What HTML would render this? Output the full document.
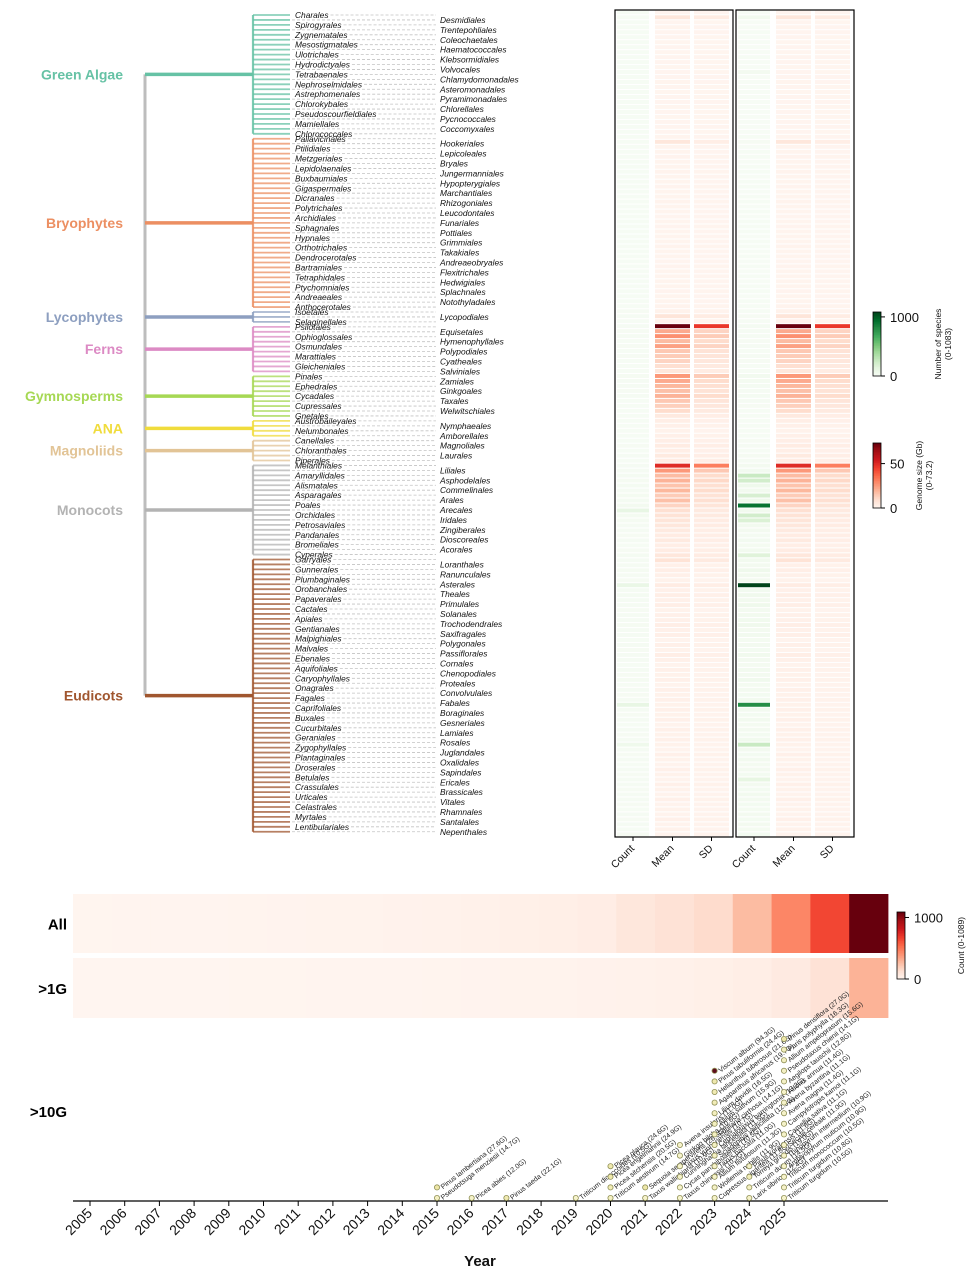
<!DOCTYPE html>
<html><head><meta charset="utf-8">
<style>
html,body{margin:0;padding:0;background:#fff;}
svg{display:block;font-family:"Liberation Sans","DejaVu Sans",sans-serif;}
</style></head>
<body>
<svg id="fig" width="977" height="1280" viewBox="0 0 977 1280" xmlns="http://www.w3.org/2000/svg">
<g id="tree"></g>
<g id="heat"></g>
<g id="cbars"></g>
<g id="year"></g>
<g id="scatter"></g>
</svg>
<script>
// ---------- data ----------
const groupNames = ["Green Algae","Bryophytes","Lycophytes","Ferns","Gymnosperms","ANA","Magnoliids","Monocots","Eudicots"];
const groupColors = ["#66c2a5","#ec8f62","#8d9fc0","#dc8ac4","#a6d854","#f0dc3c","#e2c496","#b3b3b3","#a0562f"];
const groupOrders = [
["Charales","Desmidiales","Spirogyrales","Trentepohliales","Zygnematales","Coleochaetales","Mesostigmatales","Haematococcales","Ulotrichales","Klebsormidiales","Hydrodictyales","Volvocales","Tetrabaenales","Chlamydomonadales","Nephroselmidales","Asteromonadales","Astrephomenales","Pyramimonadales","Chlorokybales","Chlorellales","Pseudoscourfieldiales","Pycnococcales","Mamiellales","Coccomyxales","Chlorococcales"],
["Pallavicinales","Hookeriales","Ptilidiales","Lepicoleales","Metzgeriales","Bryales","Lepidolaenales","Jungermanniales","Buxbaumiales","Hypopterygiales","Gigaspermales","Marchantiales","Dicranales","Rhizogoniales","Polytrichales","Leucodontales","Archidiales","Funariales","Sphagnales","Pottiales","Hypnales","Grimmiales","Orthotrichales","Takakiales","Dendrocerotales","Andreaeobryales","Bartramiales","Flexitrichales","Tetraphidales","Hedwigiales","Ptychomniales","Splachnales","Andreaeales","Notothyladales","Anthocerotales"],
["Isoetales","Lycopodiales","Selaginellales"],
["Psilotales","Equisetales","Ophioglossales","Hymenophyllales","Osmundales","Polypodiales","Marattiales","Cyatheales","Gleicheniales","Salviniales"],
["Pinales","Zamiales","Ephedrales","Ginkgoales","Cycadales","Taxales","Cupressales","Welwitschiales","Gnetales"],
["Austrobaileyales","Nymphaeales","Nelumbonales","Amborellales"],
["Canellales","Magnoliales","Chloranthales","Laurales","Piperales"],
["Melanthiales","Liliales","Amaryllidales","Asphodelales","Alismatales","Commelinales","Asparagales","Arales","Poales","Arecales","Orchidales","Iridales","Petrosaviales","Zingiberales","Pandanales","Dioscoreales","Bromeliales","Acorales","Cyperales"],
["Garryales","Loranthales","Gunnerales","Ranunculales","Plumbaginales","Asterales","Orobanchales","Theales","Papaverales","Primulales","Cactales","Solanales","Apiales","Trochodendrales","Gentianales","Saxifragales","Malpighiales","Polygonales","Malvales","Passiflorales","Ebenales","Cornales","Aquifoliales","Chenopodiales","Caryophyllales","Proteales","Onagrales","Convolvulales","Fagales","Fabales","Caprifoliales","Boraginales","Buxales","Gesneriales","Cucurbitales","Lamiales","Geraniales","Rosales","Zygophyllales","Juglandales","Plantaginales","Oxalidales","Droserales","Sapindales","Betulales","Ericales","Crassulales","Brassicales","Urticales","Vitales","Celastrales","Rhamnales","Myrtales","Santalales","Lentibulariales","Nepenthales"]
];
const meanSize = [
0.4,6,0.3,0.5,0.4,0.3,0.2,0.3,0.2,0.4,0.3,0.2,0.3,0.4,0.5,0.3,0.2,0.3,0.4,0.2,0.3,0.2,0.3,0.4,0.3,
0.5,6,0.6,0.5,0.7,0.5,0.6,0.8,0.5,0.6,0.7,0.5,0.6,0.8,0.5,0.6,0.4,0.5,0.7,0.6,0.5,0.6,0.8,0.5,0.6,0.4,0.7,0.5,0.6,0.5,0.6,0.7,0.5,0.6,0.8,
1.5,7,1.2,
73,22,28,18,24,15,14,12,9,6,
26,22,19,17,20,15,13,10,5,
3,2,1.5,2,
3,4,3,5,4,
50,26,18,20,16,19,14,17,12,9,8,7,6,5,4,5,3,4,6,
8,2,3,2,1.5,4,2,3,2,3,1.5,2,2,3,2,2.5,1,2,1.5,3,2,1,2,1.5,2,1,2,1.5,2,1.5,2,1.5,2,1,2,1.5,2,1.5,1,2,1.5,1,2,1.5,1,2,1.5,1,2,1,1.5,1,2,1,1.5,1];
const sdSize = [
0.3,4,0.2,0.3,0.3,0.2,0.2,0.2,0.2,0.3,0.2,0.2,0.2,0.3,0.3,0.2,0.2,0.2,0.3,0.2,0.2,0.2,0.2,0.3,0.2,
0.4,3,0.4,0.4,0.5,0.4,0.4,0.6,0.4,0.4,0.5,0.4,0.4,0.6,0.4,0.4,0.3,0.4,0.5,0.4,0.4,0.4,0.6,0.4,0.4,0.3,0.5,0.4,0.4,0.4,0.4,0.5,0.4,0.4,0.6,
1,4,1,
47,12,14,10,12,8,7,6,5,4,
14,10,9,8,10,7,6,5,3,
2,1.5,1,1.5,
2,3,2,3,3,
32,15,10,11,9,10,8,9,7,5,5,4,4,3,3,3,2,3,4,
5,1.5,2,1.5,1,3,1.5,2,1.5,2,1,1.5,1.5,2,1.5,2,1,1.5,1,2,1.5,1,1.5,1,1.5,1,1.5,1,1.5,1,1.5,1,1.5,1,1.5,1,1.5,1,1,1.5,1,1,1.5,1,1,1.5,1,1,1.5,1,1,1,1.5,1,1,1];
const countAll = [
6,8,5,6,7,5,4,5,4,6,5,4,8,5,6,4,5,4,6,5,4,5,6,5,4,
6,8,5,6,7,5,4,9,5,6,7,5,6,8,5,6,4,5,7,6,5,6,8,5,6,4,7,5,6,5,6,7,5,6,8,
10,12,9,
15,10,12,9,11,8,10,9,7,6,
18,14,12,10,12,9,8,7,5,
6,5,4,5,
8,10,7,12,9,
12,15,22,18,20,16,24,19,30,110,25,18,14,12,10,12,9,11,20,
15,12,18,14,10,95,12,20,14,16,10,12,14,18,12,14,9,12,10,16,12,9,14,10,18,9,12,10,14,110,12,10,14,9,12,10,16,60,12,10,14,9,12,10,16,12,10,14,12,10,9,12,10,12,9,11,10];
const countBig = [
3,40,2,3,4,2,3,2,3,4,2,3,30,2,3,2,3,2,3,2,3,2,3,2,3,
4,10,3,4,5,3,4,6,3,4,5,3,4,6,3,4,3,4,5,4,3,4,6,3,4,3,5,3,4,3,4,5,3,4,6,
6,10,5,
20,12,15,10,14,9,12,10,8,6,
40,25,20,15,22,12,10,9,6,
8,6,5,6,
10,14,9,18,12,
30,35,260,220,60,40,200,60,920,40,220,180,40,30,20,35,25,40,160,
40,30,60,40,30,1083,35,50,40,60,30,40,45,50,30,40,25,30,28,45,30,25,40,30,50,25,30,28,40,800,30,28,40,25,30,28,45,260,30,28,40,25,30,28,120,30,28,40,30,28,25,30,28,30,25,28,30];
const heatCols = ["Count","Mean","SD"];
const years = [2005,2006,2007,2008,2009,2010,2011,2012,2013,2014,2015,2016,2017,2018,2019,2020,2021,2022,2023,2024,2025];
const yearAll = [3,4,5,6,8,10,12,15,18,22,28,35,40,50,90,120,150,270,450,650,1089];
const yearGt1 = [1,1,2,2,3,3,4,5,6,8,10,12,14,18,22,28,35,45,70,120,300];
const bigYears = [2015,2015,2016,2017,2019,2020,2020,2020,2020,2021,2021,2022,2022,2022,2022,2022,2022,
2023,2023,2023,2023,2023,2023,2023,2023,2023,2023,2023,2023,2023,2024,2024,2024,2024,
2025,2025,2025,2025,2025,2025,2025,2025,2025,2025,2025,2025,2025,2025,2025,2025];
const bigSizes = [14.7,27.6,12.0,22.1,10.5,14.7,20.5,24.9,24.6,10.9,26.5,10.2,10.5,11.5,10.7,10.6,11.0,
11.8,11.9,11.3,11.0,12.5,13.2,14.1,15.9,16.5,19.7,21.6,24.4,94.3,12.4,14.5,19.0,11.6,
10.5,10.8,10.5,10.9,10.9,11.0,11.1,11.1,11.4,11.1,11.4,12.8,14.1,15.6,16.3,27.0];
const bigNames = ["Pseudotsuga menziesii","Pinus lambertiana","Picea abies","Pinus taeda","Triticum dicoccoides","Triticum aestivum","Picea sitchensis","Picea engelmannii","Picea glauca","Taxus wallichiana","Sequoia sempervirens","Taxus chinensis","Cycas panzhihuaensis","Cunninghamia lanceolata","Taxus yunnanensis","Ginkgo biloba","Avena insularis",
"Cupressus gigantea","Wollemia nobilis","Allium fistulosum","Taxus baccata","Sciadopitys verticillata","Cephalotaxus harringtonia","Fritillaria cirrhosa","Allium sativum","Lilium davidii","Agapanthus africanus","Helianthus tuberosus","Pinus tabuliformis","Viscum album",
"Larix sibirica","Triticum durum","Torreya grandis","Pinus koraiensis",
"Triticum turgidum","Triticum turgidum","Triticum monococcum","Amblyopyrum muticum","Thinopyrum intermedium","Secale cereale","Camellia sativa","Campylotropis kamoi","Avena magna","Avena byzantina","Adonis annua","Aegilops tauschii","Pseudotaxus chienii","Allium ampeloprasum","Paris polyphylla","Pinus densiflora"];

// ---------- helpers ----------
const NS="http://www.w3.org/2000/svg";
function mk(tag,attrs,parent){const e=document.createElementNS(NS,tag);for(const k in attrs)e.setAttribute(k,attrs[k]);parent.appendChild(e);return e;}
function hex(h){return [parseInt(h.substr(1,2),16),parseInt(h.substr(3,2),16),parseInt(h.substr(5,2),16)];}
function ramp(stops,t){if(!isFinite(t))t=0;t=Math.max(0,Math.min(1,t));const n=stops.length-1;const i=Math.min(n-1,Math.floor(t*n));const f=t*n-i;const a=hex(stops[i]),b=hex(stops[i+1]);return "rgb("+a.map((v,k)=>Math.round(v+(b[k]-v)*f)).join(",")+")";}
const REDS=["#fff5f0","#fee0d2","#fcbba1","#fc9272","#fb6a4a","#ef3b2c","#cb181d","#a50f15","#67000d"];
const GREENS=["#f7fcf5","#e5f5e0","#c7e9c0","#a1d99b","#74c476","#41ab5d","#238b45","#006d2c","#00441b"];
const YLBR=["#f6f3cc","#eee7a8","#d9c27a","#b8864f","#8a3a2c","#5c0d1c"];

// ---------- tree ----------
const tree=document.getElementById('tree');
const rowY0=15, rowStep=4.95, nodeX=253, rootX=145, leafEnd=290, rightX=440;
let idx=0; const mids=[];
groupOrders.forEach((ords,g)=>{
  const col=groupColors[g];
  const y0=rowY0+idx*rowStep, y1=rowY0+(idx+ords.length-1)*rowStep, mid=(y0+y1)/2; mids.push(mid);
  const vl=mk('line',{x1:nodeX,x2:nodeX,y1:y0,y2:y1,stroke:col,'stroke-width':2.2,opacity:0.85},tree);
  
  
  ords.forEach((name,j)=>{
    const y=rowY0+idx*rowStep;
    const lf=mk('line',{x1:nodeX,x2:leafEnd,y1:y,y2:y,stroke:col,'stroke-width':1.8,opacity:0.75},tree);
    
    
    const left=(j%2===0);
    const t=mk('text',{x:left?295:rightX,y:y+3,'font-size':8.4,'font-style':'italic',fill:'#111'},tree);
    t.textContent=name;
    
    
    let sx=292;
    if(left){ sx=295+t.getComputedTextLength()+2; }
    if(sx<434){
      const d=mk('line',{x1:sx,x2:436,y1:y,y2:y,stroke:'#b5b5b5','stroke-width':0.8,'stroke-dasharray':'3,2',opacity:0.8},tree);
      
      
    }
    idx++;
  });
  const hl=mk('line',{x1:rootX,x2:nodeX,y1:mid,y2:mid,stroke:col,'stroke-width':3.5},tree);
  
  
  const gl=mk('text',{x:123,y:mid+5,'font-size':14,'font-weight':'bold',fill:col,'text-anchor':'end'},tree);
  gl.textContent=groupNames[g];
  
  
});
const root=mk('line',{x1:rootX,x2:rootX,y1:mids[0],y2:mids[mids.length-1],stroke:'#bdbdbd','stroke-width':3},tree);


tree.insertBefore(root,tree.firstChild);

// ---------- order heatmaps ----------
const heat=document.getElementById('heat');
const nRows=166, hY0=10, hY1=837, rh=(hY1-hY0)/nRows;
const panels=[{x:615,w:118,counts:countAll},{x:736,w:118,counts:countBig}];
const colX=[[617,32],[655,35],[694,35]];
panels.forEach((p,pi)=>{
  const off=p.x-615;
  for(let i=0;i<nRows;i++){
    const y=hY0+i*rh;
    const vals=[[p.counts[i]||0,GREENS,1083],[meanSize[i]||0,REDS,73.2],[sdSize[i]||0,REDS,73.2]];
    vals.forEach((v,c)=>{
      const r=mk('rect',{x:colX[c][0]+off,y:y+0.3,width:colX[c][1],height:rh-1,fill:ramp(v[1],v[0]/v[2])},heat);
      
      
    });
  }
  const fr=mk('rect',{x:p.x,y:hY0,width:p.w,height:hY1-hY0,fill:'none',stroke:'#000','stroke-width':1.2},heat);
  
  
  heatCols.forEach((c,ci)=>{
    const cx=colX[ci][0]+off+colX[ci][1]/2;
    mk('line',{x1:cx,x2:cx,y1:hY1,y2:hY1+4,stroke:'#000','stroke-width':1},heat);
    const t=mk('text',{x:cx+2,y:hY1+12,'font-size':10.5,'text-anchor':'end',transform:'rotate(-45 '+(cx+2)+' '+(hY1+12)+')',fill:'#111'},heat);
    t.textContent=c;
    
    
  });
});

// ---------- colorbars ----------
const cb=document.getElementById('cbars');
function colorbar(x,y,h,stops,ticks,max,label1,label2,lx,name){
  const g=mk('g',{},cb);
  
  
  for(let k=0;k<40;k++){
    mk('rect',{x:x,y:y+h-(k+1)*h/40,width:8,height:h/40+0.5,fill:ramp(stops,(k+0.5)/40)},g);
  }
  mk('rect',{x:x,y:y,width:8,height:h,fill:'none',stroke:'#000','stroke-width':0.8},g);
  ticks.forEach(tv=>{
    const ty=y+h-tv/max*h;
    mk('line',{x1:x+8,x2:x+12,y1:ty,y2:ty,stroke:'#000'},g);
    const t=mk('text',{x:x+17,y:ty+5,'font-size':13,fill:'#111'},g);
    t.textContent=tv;
  });
  const cy=y+h/2;
  const t1=mk('text',{x:lx,y:cy,'font-size':8.5,'text-anchor':'middle',transform:'rotate(-90 '+lx+' '+cy+')',fill:'#111'},g);
  t1.textContent=label1;
  if(label2){
    const t2=mk('text',{x:lx+10,y:cy,'font-size':8.5,'text-anchor':'middle',transform:'rotate(-90 '+(lx+10)+' '+cy+')',fill:'#111'},g);
    t2.textContent=label2;
  }
}
colorbar(873,312,64,GREENS,[0,1000],1083,"Number of species","(0-1083)",941,"species-colorbar");
colorbar(873,443,65,REDS,[0,50],73.2,"Genome size (Gb)","(0-73.2)",922,"genome-size-colorbar");
colorbar(897,912,67,REDS,[0,1000],1089,"Count (0-1089)","",964,"count-colorbar");

// ---------- year heatmap ----------
const yh=document.getElementById('year');
const yx0=73, yx1=888, cw=(yx1-yx0)/years.length;
[[yearAll,894,953,"All"],[yearGt1,958,1018,">1G"]].forEach((row,ri)=>{
  row[0].forEach((v,i)=>{
    const r=mk('rect',{x:yx0+i*cw,y:row[1],width:cw+0.4,height:row[2]-row[1],fill:ramp(REDS,v/1089)},yh);
    
    
  });
  const t=mk('text',{x:67,y:(row[1]+row[2])/2+6,'font-size':15,'font-weight':'bold','text-anchor':'end',fill:'#000'},yh);
  t.textContent=row[3];
  
  
});
const t10=mk('text',{x:67,y:1117,'font-size':15,'font-weight':'bold','text-anchor':'end',fill:'#000'},yh);
t10.textContent=">10G";



// ---------- scatter timeline ----------
const sc=document.getElementById('scatter');
const axY=1201;
function xOf(yr){return 90+(yr-2005)*34.7;}
const ax=mk('line',{x1:73,x2:888,y1:axY,y2:axY,stroke:'#000','stroke-width':1.3},sc);


years.forEach(yr=>{
  const x=xOf(yr);
  mk('line',{x1:x,x2:x,y1:axY,y2:axY+5,stroke:'#000','stroke-width':1},sc);
  const t=mk('text',{x:x+3,y:axY+13,'font-size':14,'text-anchor':'end',transform:'rotate(-45 '+(x+3)+' '+(axY+13)+')',fill:'#111'},sc);
  t.textContent=yr;
  
  
});
const xt=mk('text',{x:480,y:1266,'font-size':15,'font-weight':'bold','text-anchor':'middle',fill:'#111'},sc);
xt.textContent="Year";


const stackCount={};
bigYears.forEach((yr,i)=>{
  const k=stackCount[yr]||0; stackCount[yr]=k+1;
  const x=xOf(yr), y=axY-3-k*10.6;
  const c=mk('circle',{cx:x,cy:y,r:2.6,fill:ramp(YLBR,(bigSizes[i]-10)/85),stroke:'#8f8f55','stroke-width':0.8},sc);
  
  
  const t=mk('text',{x:x+6,y:y+2,'font-size':7,fill:'#222',transform:'rotate(-38 '+(x+6)+' '+(y+2)+')'},sc);
  t.textContent=bigNames[i]+" ("+bigSizes[i].toFixed(1)+"G)";
  
  
});
</script>
</body></html>
